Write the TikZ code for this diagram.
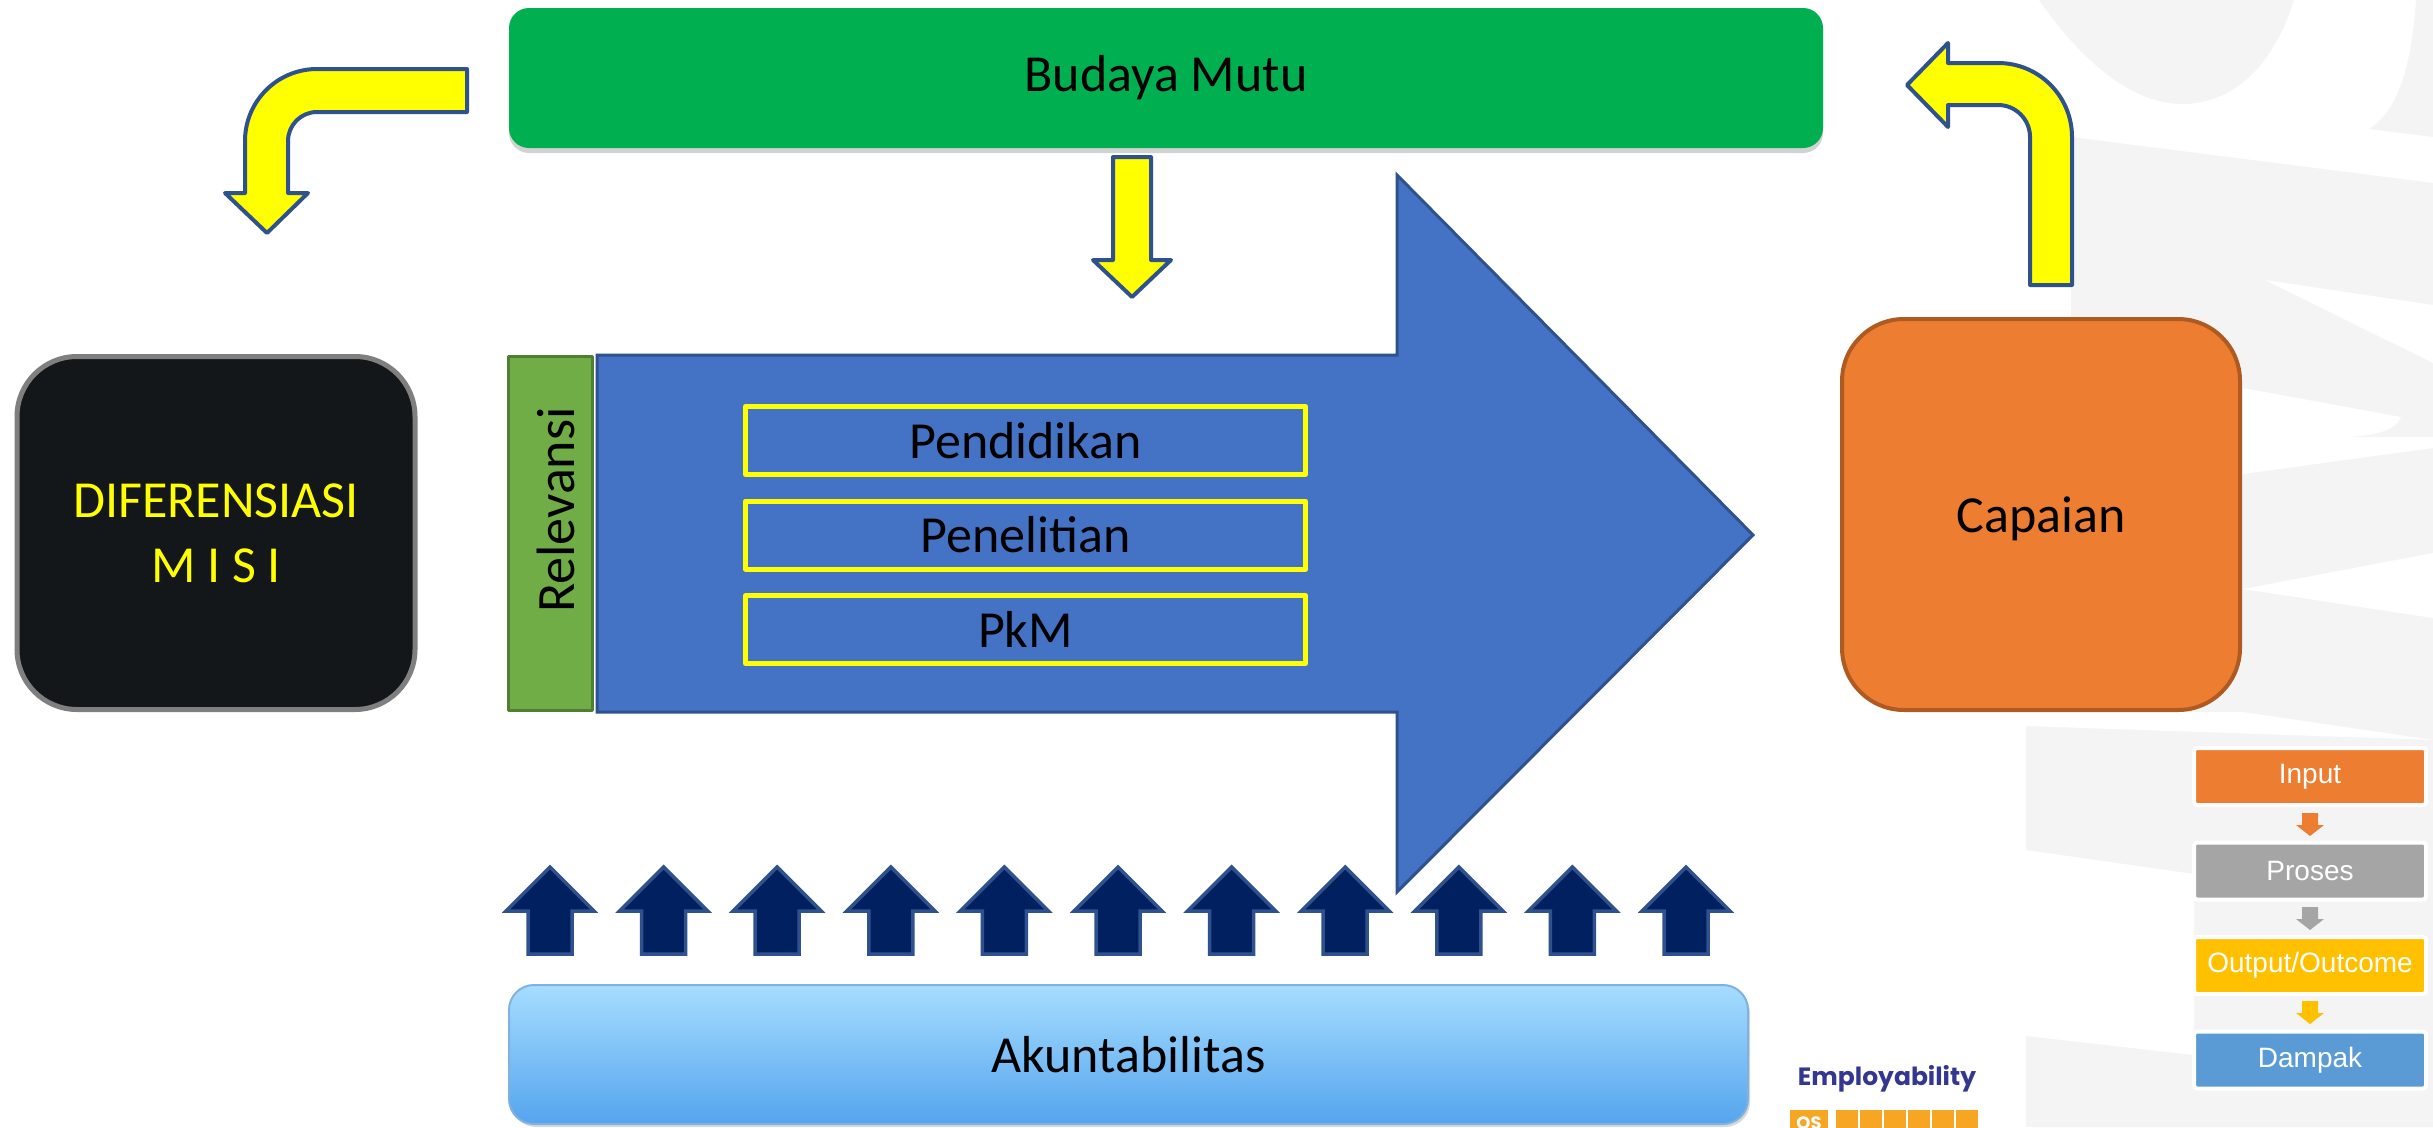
\documentclass[tikz,border=0pt]{standalone}
\usepackage{fontspec}
\setmainfont{Carlito}
\newfontfamily\legendfont{Liberation Sans}
\newfontfamily\logofont{Poppins}
\usetikzlibrary{shadows}

\definecolor{wmgrey}{HTML}{F4F4F4}
\definecolor{bmgreen}{HTML}{00B050}
\definecolor{dmblack}{HTML}{14171A}
\definecolor{dmline}{HTML}{7F7F7F}
\definecolor{relgreen}{HTML}{70AD47}
\definecolor{relline}{HTML}{507E32}
\definecolor{mainblue}{HTML}{4472C4}
\definecolor{blueline}{HTML}{2F528F}
\definecolor{capfill}{HTML}{ED7D31}
\definecolor{capline}{HTML}{AE5A21}
\definecolor{navy}{HTML}{002060}
\definecolor{aktop}{HTML}{A6DDFF}
\definecolor{akbot}{HTML}{55A4EE}
\definecolor{akline}{HTML}{7FB2E0}
\definecolor{yel}{HTML}{FFFF00}
\definecolor{leggrey}{HTML}{A5A5A5}
\definecolor{leggold}{HTML}{FFC000}
\definecolor{legblue}{HTML}{5B9BD5}
\definecolor{logoblue}{HTML}{34378F}
\definecolor{logoorange}{HTML}{F6A623}

\begin{document}
\begin{tikzpicture}[x=1pt,y=-1pt,node distance=94.5pt,line join=round]
    \tikzset{box/.style={rectangle,align=center,font=\fontsize{52}{65}\selectfont},
             yarrow/.style={fill=yel,draw=blueline,line width=4pt},
             uparrow/.style={fill=navy,draw=blueline,line width=3.5pt,line join=miter},
             inbox/.style={box,draw=yel,line width=5pt,minimum width=560pt,minimum height=68pt},
             legbox/.style={rectangle,rounded corners=3pt,draw=white,line width=4pt,
                            minimum width=232pt,minimum height=57pt,text=white,
                            font=\legendfont\fontsize{28}{32}\selectfont}}

    \useasboundingbox (0,0) rectangle (2433,1127);
    \fill[white] (0,0) rectangle (2433,1127);

    % watermark in the background
    \fill[wmgrey] (2039,0) .. controls (2095,80) and (2145,104) .. (2182,104)
        .. controls (2230,104) and (2272,70) .. (2294,0) -- cycle;
    \fill[wmgrey] (2416,0) -- (2433,0) -- (2433,137) -- (2369,129)
        .. controls (2400,110) and (2412,60) .. (2416,0) -- cycle;
    \fill[wmgrey] (2071,137) -- (2433,183) -- (2433,1127) -- (2026,1127) -- (2026,726)
        -- (2071,726) -- cycle;
    \fill[white] (2265,280) -- (2433,305) -- (2433,363) -- cycle;
    \fill[white] (2243,388) -- (2401,417) .. controls (2395,432) and (2370,437) .. (2337,437)
        -- (2433,437) -- (2433,448) -- (2243,474) -- cycle;
    \fill[white] (2243,589) -- (2433,553) -- (2433,618) -- cycle;
    \fill[white] (2026,712) -- (2243,712) -- (2433,740) -- (2026,726) -- cycle;
    \fill[white] (2026,850) -- (2194,874) -- (2194,1055) -- (2026,1036) -- cycle;

    % main blocks
    \node[box,fill=bmgreen,rounded corners=20pt,minimum width=1314pt,minimum height=140pt,
          drop shadow={opacity=0.35,shadow xshift=0pt,shadow yshift=-5pt}] (BM) at (1166,78) {Budaya Mutu};
    \node[box,fill=dmblack,draw=dmline,line width=5pt,rounded corners=60pt,text=yel,
          minimum width=398pt,minimum height=353pt] (DM) at (216,533) {DIFERENSIASI\\M I S I};
    \node[fill=relgreen,draw=relline,line width=3pt,minimum width=84pt,minimum height=354pt] (R) at (550.5,533.5) {};
    \node[box,rotate=90,font=\fontsize{54}{60}\selectfont] (RT) at (556,510) {Relevansi};

    \draw[fill=mainblue,draw=blueline,line width=3pt,line join=miter]
        (597,355) -- (1397,355) -- (1397,175) -- (1753,535) -- (1397,892)
        -- (1397,712) -- (597,712) -- cycle;

    \node[inbox] (P)                  at (1025.5,440.5) {Pendidikan};
    \node[inbox] (N) [below of=P]     {Penelitian};
    \node[inbox] (K) [below of=N]     {PkM};

    \node[box,fill=capfill,draw=capline,line width=4pt,rounded corners=62pt,text depth=0pt,
          minimum width=398pt,minimum height=391pt] (C) at (2041,514.5) {Capaian};

    \node[box,rounded corners=25pt,top color=aktop,bottom color=akbot,draw=akline,line width=2pt,
          minimum width=1239pt,minimum height=139pt,
          drop shadow={opacity=0.3,shadow xshift=2pt,shadow yshift=-3pt}] (A) at (1128.5,1054.5) {Akuntabilitas};

    % yellow arrows
    \draw[yarrow] (467,69) -- (317,69) arc[start angle=270,end angle=180,radius=72]
        -- (245,193) -- (225,193) -- (267,233) -- (308,193) -- (288,193) -- (288,141)
        arc[start angle=180,end angle=270,radius=29] -- (467,112) -- cycle;
    \draw[yarrow] (1113,157) -- (1151,157) -- (1151,260) -- (1171,260) -- (1132,297)
        -- (1093,260) -- (1113,260) -- cycle;
    \draw[yarrow] (2072,285) -- (2072,137) arc[start angle=0,end angle=-90,radius=74]
        -- (1948,63) -- (1948,43) -- (1907,85) -- (1948,127) -- (1948,105) -- (1998,105)
        arc[start angle=-90,end angle=0,radius=32] -- (2030,285) -- cycle;

    % row of arrows above Akuntabilitas
    \foreach \i [evaluate=\i as \x using 550+113.6*\i] in {0,...,10}
        \draw[uparrow] (\x-22,954) -- (\x-22,911) -- (\x-44,911) -- (\x,867)
            -- (\x+44,911) -- (\x+22,911) -- (\x+22,954) -- cycle;

    % legend
    \node[legbox,fill=capfill] (IN) at (2310,776.5) {Input};
    \node[legbox,fill=leggrey] (PR) [below of=IN] {Proses};
    \node[legbox,fill=leggold] (OU) [below of=PR] {Output/Outcome};
    \node[legbox,fill=legblue] (DA) [below of=OU] {Dampak};
    \foreach \s/\c in {813/capfill,907/leggrey,1001/leggold}
        \fill[\c] (2302,\s) -- (2318,\s) -- (2318,\s+12) -- (2324,\s+12) -- (2310,\s+23)
            -- (2296,\s+12) -- (2302,\s+12) -- cycle;

    % logo
    \node[text=logoblue,font=\logofont\bfseries\fontsize{25}{28}\selectfont] (E) at (1887,1079) {Employability};
    \fill[logoorange] (1790,1110) rectangle (1828,1135);
    \foreach \i in {0,...,5}
        \fill[logoorange] (1836+24*\i,1110) rectangle (1858+24*\i,1135);
    \node[text=white,font=\logofont\bfseries\fontsize{18}{20}\selectfont] (Q) at (1809,1124) {QS};
\end{tikzpicture}
\end{document}
